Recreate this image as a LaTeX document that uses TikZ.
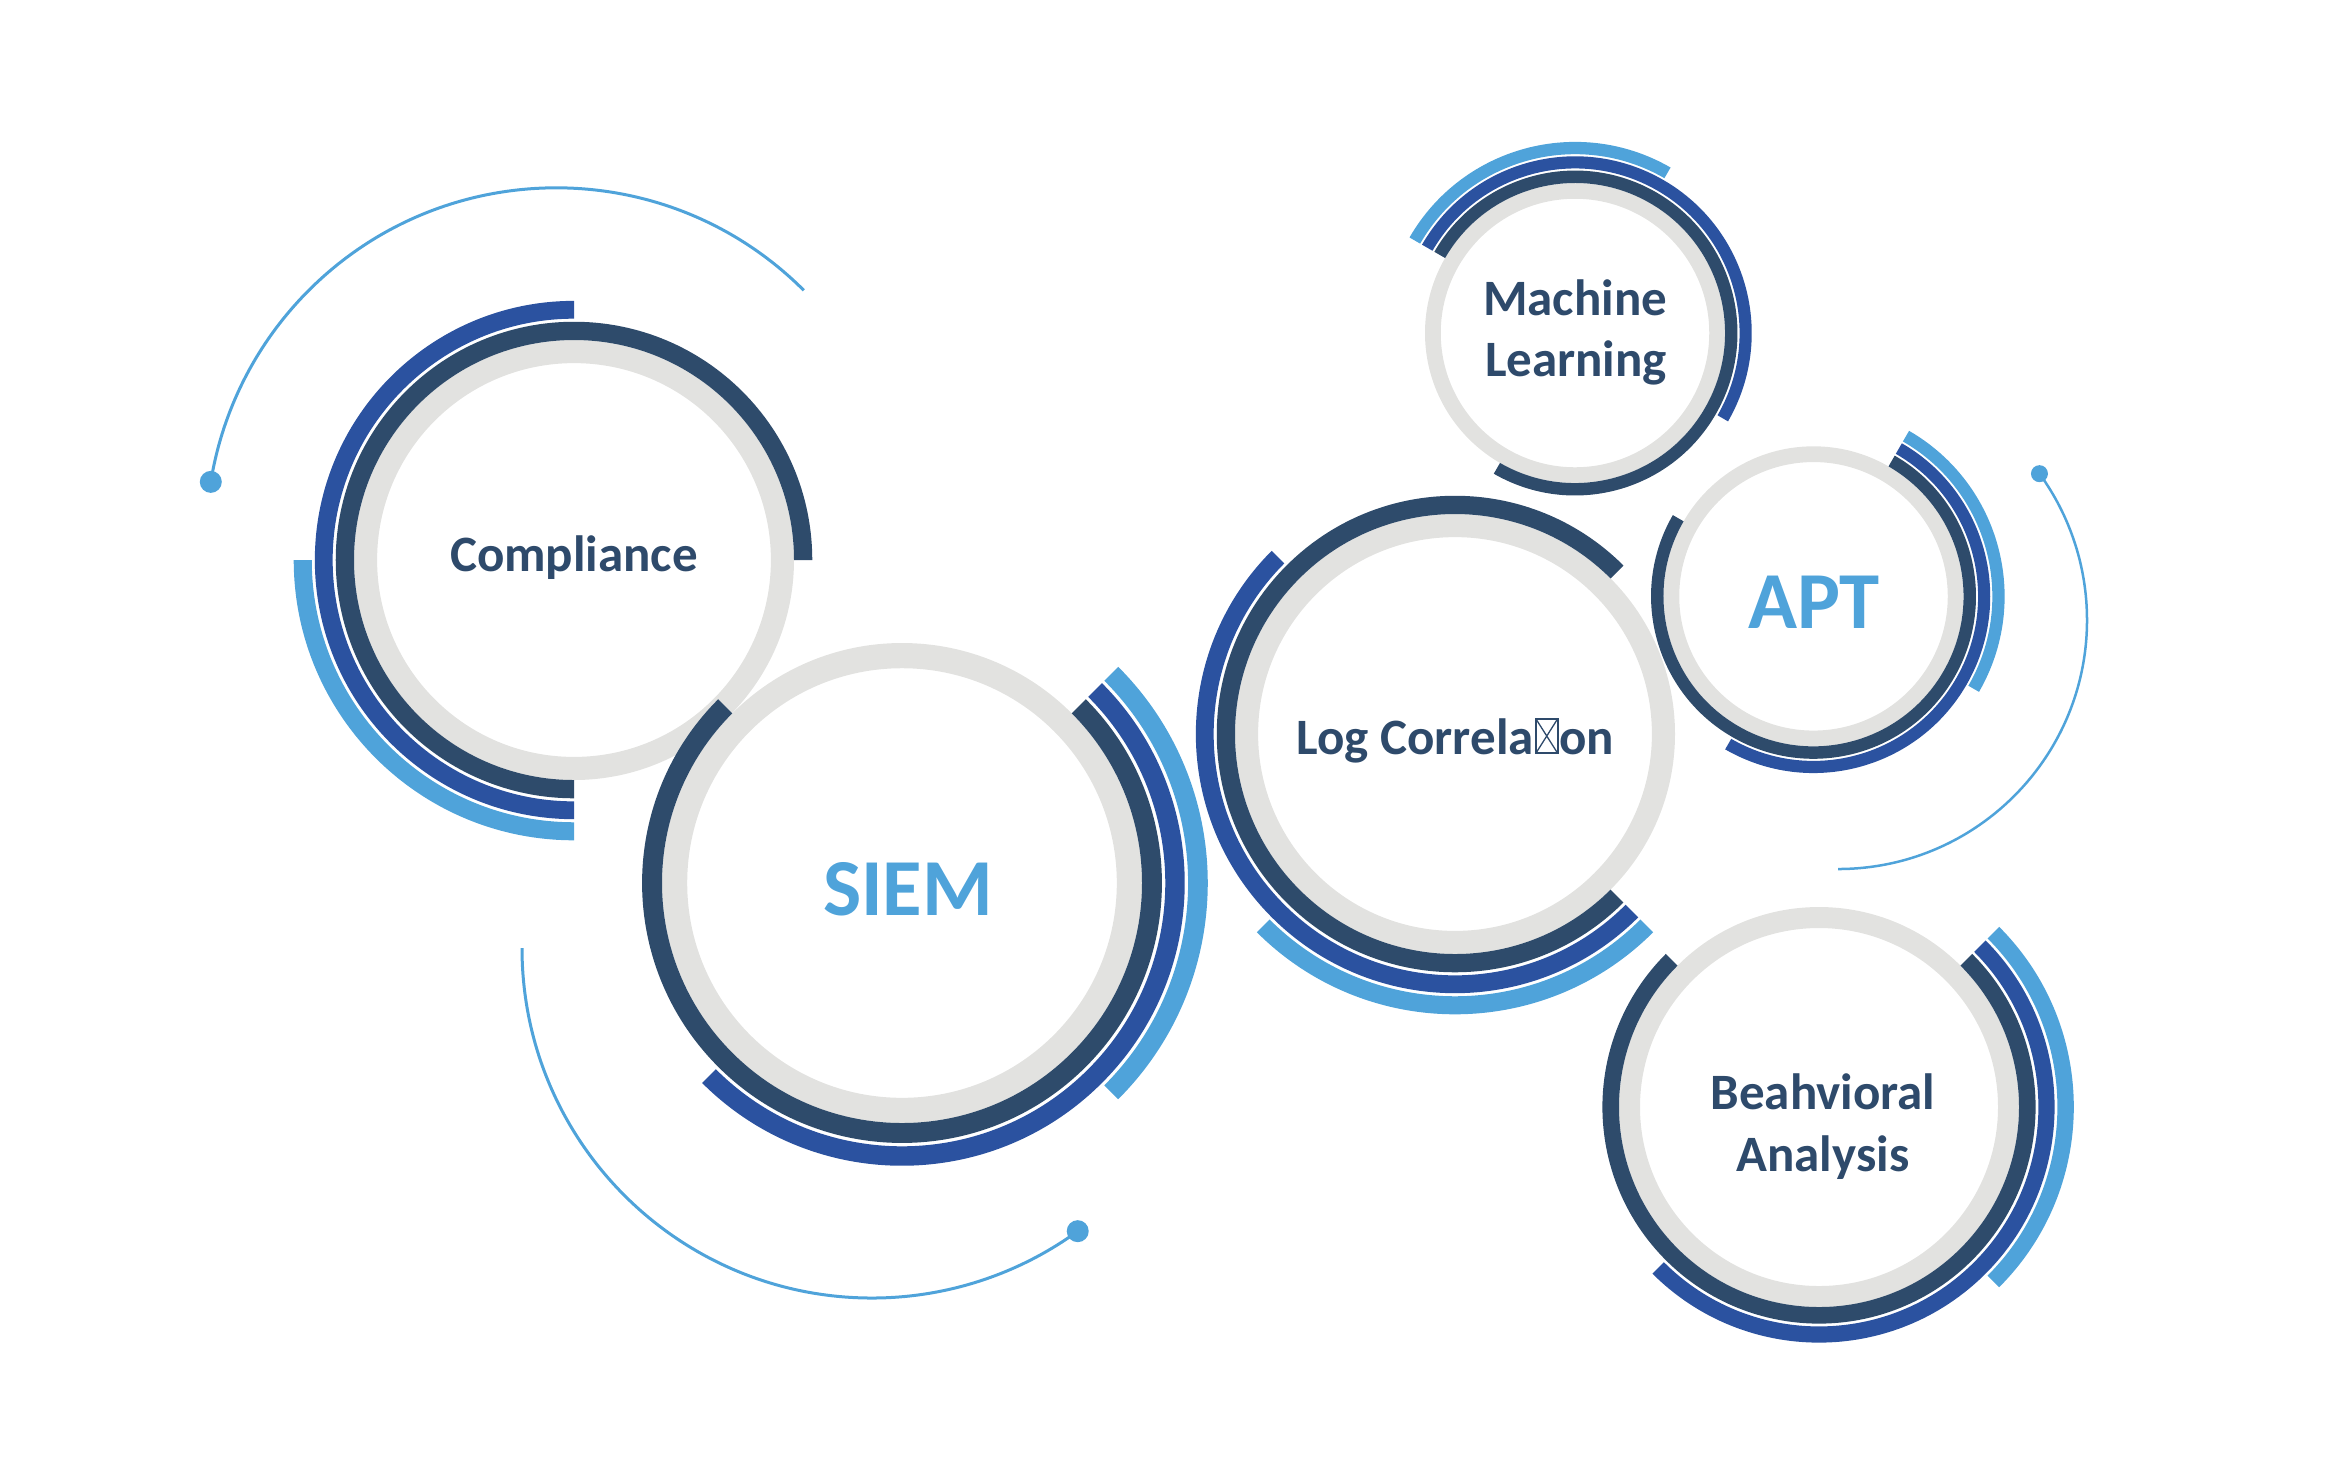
\documentclass[tikz,border=0pt]{standalone}
\usepackage{fontspec}
\setmainfont{Carlito}

\definecolor{cRingGray}{HTML}{E2E2E0}
\definecolor{cRingDark}{HTML}{2E4B6B}
\definecolor{cRingBlue}{HTML}{2B52A0}
\definecolor{cRingLight}{HTML}{4FA3DA}
\definecolor{cTextNavy}{HTML}{2E4A6B}

\tikzset{
  ringgray/.style={fill=cRingGray},
  ringdark/.style={fill=cRingDark},
  ringblue/.style={fill=cRingBlue},
  ringlight/.style={fill=cRingLight},
  orbit/.style={draw=cRingLight, line width=0.03cm},
  orbitdot/.style={fill=cRingLight},
  label/.style={text=cTextNavy, inner sep=0pt, anchor=base,
    font=\fontsize{14.5}{17.5}\selectfont\bfseries},
  biglabel/.style={text=cRingLight, inner sep=0pt, anchor=base,
    font=\fontsize{23}{27}\selectfont\bfseries}
}

% annular sector: style, cx, cy, inner radius, outer radius, start angle, end angle
\newcommand\ringband[7]{%
  \fill[#1, shift={(#2,#3)}] (#6:#4) arc[start angle=#6, end angle=#7, radius=#4]
    -- (#7:#5) arc[start angle=#7, end angle=#6, radius=#5] -- cycle;}

% grey ring of radius #3 at (#1,#2) with three coloured outer arcs:
% dark #4->#5, blue #6->#7, light #8->#9
\newcommand\ringgauge[9]{%
  \pgfmathsetmacro\rGi{0.895*#3}%
  \pgfmathsetmacro\rDo{1.083*#3}%
  \pgfmathsetmacro\rBi{1.097*#3}%
  \pgfmathsetmacro\rBo{1.178*#3}%
  \pgfmathsetmacro\rLi{1.192*#3}%
  \pgfmathsetmacro\rLo{1.274*#3}%
  \fill[ringgray, even odd rule] (#1,#2) circle[radius=#3] (#1,#2) circle[radius=\rGi];
  \ringband{ringdark}{#1}{#2}{#3}{\rDo}{#4}{#5}
  \ringband{ringblue}{#1}{#2}{\rBi}{\rBo}{#6}{#7}
  \ringband{ringlight}{#1}{#2}{\rLi}{\rLo}{#8}{#9}}

\begin{document}
\begin{tikzpicture}[x=0.01cm, y=0.01cm]
  \useasboundingbox (0,0) rectangle (2345,-1456);

  % rings
  \ringgauge{574}{-560}{220}{0}{270}{90}{270}{180}{270}        % Compliance
  \ringgauge{902}{-883}{240}{135}{405}{225}{405}{-45}{45}      % SIEM
  \ringgauge{1455}{-734}{220}{45}{315}{135}{315}{225}{315}     % Log Correlation
  \ringgauge{1575}{-333}{150}{-120}{150}{-30}{150}{60}{150}    % Machine Learning
  \ringgauge{1813.5}{-596.3}{150}{150}{420}{240}{420}{330}{420}% APT
  \ringgauge{1819}{-1107}{200}{135}{405}{225}{405}{-45}{45}    % Behavioral Analysis

  % thin orbits ending in dots
  \draw[orbit] (556.3,-537.8) ++(45:350)
    arc[start angle=45, end angle=170.8, radius=350] coordinate (dotA);
  \fill[orbitdot] (dotA) circle[radius=11];

  \draw[orbit] (872,-948) ++(180:350)
    arc[start angle=180, end angle=306, radius=350] coordinate (dotB);
  \fill[orbitdot] (dotB) circle[radius=11];

  \draw[orbit, line width=0.025cm] (1838,-620) ++(-90:249)
    arc[start angle=-90, end angle=36, radius=249] coordinate (dotC);
  \fill[orbitdot] (dotC) circle[radius=8.5];

  % labels
  \node[label] (comp) at (574,-571.5) {Compliance};
  \node[biglabel] (siem) at (908,-915.7) {SIEM};
  \node[label, anchor=base east] (logA) at (1534.5,-754) {Log Correla};
  % missing-glyph box between "Correla" and "on"
  \draw[cTextNavy, line width=0.02cm] (1536,-753) rectangle (1557.5,-719);
  \draw[cTextNavy, line width=0.013cm]
    (1536,-753) -- (1557.5,-719)
    (1536,-719) -- (1557.5,-753);
  \node[label, anchor=base west] (logB) at (1558.5,-754) {on};
  \node[label] (ml1) at (1575,-315) {Machine};
  \node[label] (ml2) at (1576,-376.7) {Learning};
  \node[biglabel] (apt) at (1814,-628.3) {APT};
  \node[label] (beh1) at (1823,-1109.3) {Beahvioral};
  \node[label] (beh2) at (1823,-1171) {Analysis};
\end{tikzpicture}
\end{document}
